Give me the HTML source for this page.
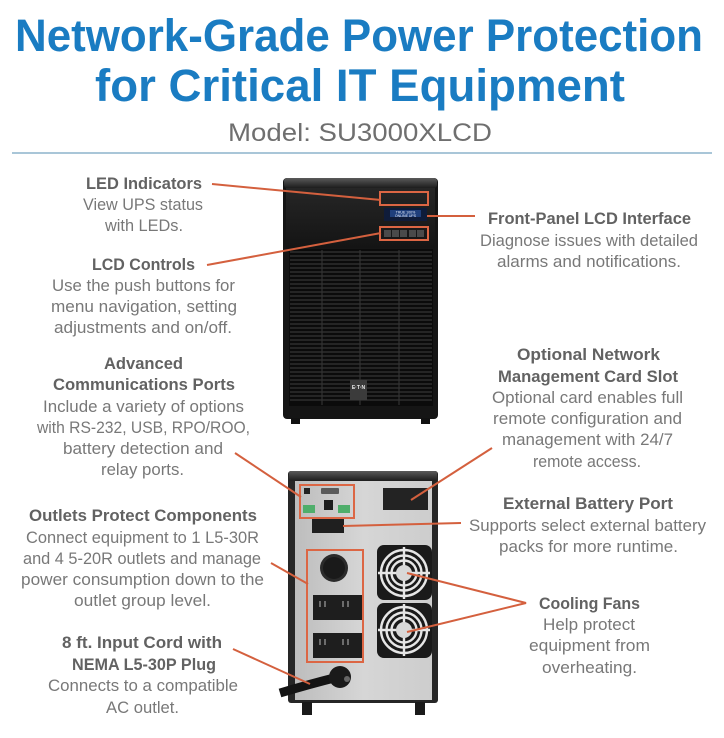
<!DOCTYPE html>
<html><head><meta charset="utf-8"><style>
html,body{margin:0;padding:0;background:#fff;}
svg{display:block;}
.h{font-family:"Liberation Sans",sans-serif;font-weight:bold;font-size:16.5px;fill:#626262;}
.b{font-family:"Liberation Sans",sans-serif;font-size:17px;fill:#787878;}
.c{stroke:#d4603e;stroke-width:2;fill:none;}
.ob{stroke:#dc6644;stroke-width:2;fill:none;}
</style></head><body>
<svg width="724" height="738" viewBox="0 0 724 738" xmlns="http://www.w3.org/2000/svg">
<defs>
<linearGradient id="topg" x1="0" y1="0" x2="0" y2="1"><stop offset="0" stop-color="#5a5a5a"/><stop offset="1" stop-color="#1d1d1d"/></linearGradient>
<linearGradient id="panelg" x1="0" y1="0" x2="0" y2="1"><stop offset="0" stop-color="#262626"/><stop offset="1" stop-color="#141414"/></linearGradient>
<linearGradient id="silver" x1="0" y1="0" x2="1" y2="0"><stop offset="0" stop-color="#bdbdbd"/><stop offset="0.5" stop-color="#d6d6d6"/><stop offset="1" stop-color="#cdcdcd"/></linearGradient>
</defs>

<!-- Title -->
<text x="15" y="51" font-family="Liberation Sans, sans-serif" font-weight="bold" font-size="45" fill="#1a7cc2" textLength="688" lengthAdjust="spacingAndGlyphs">Network-Grade Power Protection</text>
<text x="95" y="101" font-family="Liberation Sans, sans-serif" font-weight="bold" font-size="45" fill="#1a7cc2" textLength="530" lengthAdjust="spacingAndGlyphs">for Critical IT Equipment</text>
<text x="228" y="141" font-family="Liberation Sans, sans-serif" font-size="25" fill="#6f6f6f" textLength="264" lengthAdjust="spacingAndGlyphs">Model: SU3000XLCD</text>
<line x1="12" y1="153" x2="712" y2="153" stroke="#a9c6d8" stroke-width="2"/>

<!-- Front UPS -->
<rect x="283" y="178" width="155" height="241" rx="4" fill="#151515"/>
<rect x="284" y="178" width="153" height="10" rx="3" fill="url(#topg)"/>
<rect x="286" y="188" width="149" height="60" fill="url(#panelg)"/>
<rect x="289" y="249" width="144" height="157" fill="#0b0b0b"/>
<g stroke="#2e2e2e" stroke-width="1.6">
<line x1="290" y1="252" x2="432" y2="252"/>
<line x1="290" y1="256" x2="432" y2="256"/>
<line x1="290" y1="260" x2="432" y2="260"/>
<line x1="290" y1="264" x2="432" y2="264"/>
<line x1="290" y1="268" x2="432" y2="268"/>
<line x1="290" y1="272" x2="432" y2="272"/>
<line x1="290" y1="276" x2="432" y2="276"/>
<line x1="290" y1="280" x2="432" y2="280"/>
<line x1="290" y1="284" x2="432" y2="284"/>
<line x1="290" y1="288" x2="432" y2="288"/>
<line x1="290" y1="292" x2="432" y2="292"/>
<line x1="290" y1="296" x2="432" y2="296"/>
<line x1="290" y1="300" x2="432" y2="300"/>
<line x1="290" y1="304" x2="432" y2="304"/>
<line x1="290" y1="308" x2="432" y2="308"/>
<line x1="290" y1="312" x2="432" y2="312"/>
<line x1="290" y1="316" x2="432" y2="316"/>
<line x1="290" y1="320" x2="432" y2="320"/>
<line x1="290" y1="324" x2="432" y2="324"/>
<line x1="290" y1="328" x2="432" y2="328"/>
<line x1="290" y1="332" x2="432" y2="332"/>
<line x1="290" y1="336" x2="432" y2="336"/>
<line x1="290" y1="340" x2="432" y2="340"/>
<line x1="290" y1="344" x2="432" y2="344"/>
<line x1="290" y1="348" x2="432" y2="348"/>
<line x1="290" y1="352" x2="432" y2="352"/>
<line x1="290" y1="356" x2="432" y2="356"/>
<line x1="290" y1="360" x2="432" y2="360"/>
<line x1="290" y1="364" x2="432" y2="364"/>
<line x1="290" y1="368" x2="432" y2="368"/>
<line x1="290" y1="372" x2="432" y2="372"/>
<line x1="290" y1="376" x2="432" y2="376"/>
<line x1="290" y1="380" x2="432" y2="380"/>
<line x1="290" y1="384" x2="432" y2="384"/>
<line x1="290" y1="388" x2="432" y2="388"/>
<line x1="290" y1="392" x2="432" y2="392"/>
<line x1="290" y1="396" x2="432" y2="396"/>
<line x1="290" y1="400" x2="432" y2="400"/>
</g>
<g stroke="#333" stroke-width="1.2">
<line x1="322" y1="250" x2="322" y2="405"/>
<line x1="360" y1="250" x2="360" y2="405"/>
<line x1="399" y1="250" x2="399" y2="405"/>
</g>
<rect x="350" y="380" width="17" height="20" fill="#3b3b3b"/>
<text x="358.5" y="389" font-family="Liberation Sans, sans-serif" font-weight="bold" font-size="5" fill="#eee" text-anchor="middle">E·T·N</text>
<rect x="291" y="418" width="9" height="6" fill="#111"/>
<rect x="421" y="418" width="9" height="6" fill="#111"/>
<!-- LED box -->
<rect x="380" y="192" width="48" height="13" fill="#0e0e0e" class="ob"/>
<!-- LCD -->
<rect x="384" y="208" width="43" height="13" fill="#0f1c3a"/>
<rect x="390" y="210" width="31" height="7" fill="#1f3f7c"/>
<text x="405.5" y="213.5" font-family="Liberation Sans, sans-serif" font-size="3.5" fill="#e8eefc" text-anchor="middle">TRUE 100%</text>
<text x="405.5" y="217" font-family="Liberation Sans, sans-serif" font-size="3.5" fill="#e8eefc" text-anchor="middle">ONLINE UPS</text>
<!-- buttons -->
<rect x="380" y="227" width="48" height="13" fill="#1a1a1a" class="ob"/>
<rect x="384" y="230" width="7" height="7" fill="#4a4a4a"/>
<rect x="392" y="230" width="7" height="7" fill="#4a4a4a"/>
<rect x="400" y="230" width="7" height="7" fill="#4a4a4a"/>
<rect x="409" y="230" width="7" height="7" fill="#4a4a4a"/>
<rect x="417" y="230" width="7" height="7" fill="#4a4a4a"/>

<!-- Back UPS -->
<rect x="288" y="471" width="150" height="232" rx="3" fill="#262626"/>
<rect x="289" y="471" width="148" height="10" rx="2" fill="url(#topg)"/>
<rect x="295" y="481" width="137" height="219" fill="url(#silver)"/>
<!-- comm box -->
<rect x="300" y="485" width="54" height="33" class="ob"/>
<rect x="304" y="488" width="6" height="6" fill="#222"/>
<rect x="321" y="488" width="18" height="6" rx="1" fill="#5a5a5a"/>
<rect x="303" y="505" width="12" height="8" fill="#4fae6b"/>
<rect x="338" y="505" width="12" height="8" fill="#4fae6b"/>
<rect x="324" y="500" width="9" height="10" fill="#1d1d1d"/>
<!-- NMC -->
<rect x="383" y="488" width="45" height="22" fill="#232323"/>
<!-- ext battery -->
<rect x="312" y="519" width="32" height="14" fill="#1f1f1f"/>
<!-- outlets -->
<rect x="307" y="550" width="56" height="112" class="ob"/>
<circle cx="334" cy="568" r="14" fill="#2b2b2b"/>
<circle cx="334" cy="568" r="11" fill="#1a1a1a"/>
<rect x="313" y="595" width="49" height="25" fill="#1e1e1e"/>
<rect x="313" y="633" width="49" height="25" fill="#1e1e1e"/>
<g stroke="#bbb" stroke-width="1">
<line x1="320" y1="601" x2="320" y2="607"/><line x1="325" y1="601" x2="325" y2="607"/>
<line x1="343" y1="601" x2="343" y2="607"/><line x1="348" y1="601" x2="348" y2="607"/>
<line x1="320" y1="639" x2="320" y2="645"/><line x1="325" y1="639" x2="325" y2="645"/>
<line x1="343" y1="639" x2="343" y2="645"/><line x1="348" y1="639" x2="348" y2="645"/>
</g>
<!-- fans -->
<rect x="377" y="545" width="55" height="55" rx="7" fill="#1a1a1a"/>
<rect x="377" y="603" width="55" height="55" rx="7" fill="#1a1a1a"/>
<g fill="none" stroke="#e6e6e6" stroke-width="2.4">
<circle cx="404" cy="573" r="23"/><circle cx="404" cy="573" r="17.5"/><circle cx="404" cy="573" r="12.5"/>
<circle cx="404" cy="630" r="23"/><circle cx="404" cy="630" r="17.5"/><circle cx="404" cy="630" r="12.5"/>
<line x1="404" y1="547" x2="404" y2="599"/><line x1="378" y1="573" x2="430" y2="573"/>
<line x1="404" y1="604" x2="404" y2="656"/><line x1="378" y1="630" x2="430" y2="630"/>
</g>
<circle cx="404" cy="573" r="8" fill="#d8d8d8"/>
<circle cx="404" cy="630" r="8" fill="#d8d8d8"/>
<!-- cord -->
<path d="M280 693 Q310 684 338 677" stroke="#141414" stroke-width="9" fill="none"/>
<circle cx="340" cy="677" r="11" fill="#1a1a1a"/>
<circle cx="347" cy="679" r="3" fill="#666"/>
<!-- feet -->
<rect x="302" y="702" width="10" height="13" fill="#1a1a1a"/>
<rect x="415" y="702" width="10" height="13" fill="#1a1a1a"/>

<!-- Connectors -->
<line class="c" x1="212" y1="184" x2="381" y2="200"/>
<line class="c" x1="207" y1="265" x2="381" y2="233"/>
<line class="c" x1="427" y1="216" x2="475" y2="216"/>
<line class="c" x1="235" y1="453" x2="301" y2="497"/>
<line class="c" x1="492" y1="448" x2="411" y2="500"/>
<line class="c" x1="343" y1="526" x2="461" y2="523"/>
<line class="c" x1="271" y1="563" x2="308" y2="584"/>
<line class="c" x1="233" y1="649" x2="310" y2="684"/>
<polyline class="c" points="407,573 526,603 407,632"/>

<!-- Left labels -->
<text class="h" x="86" y="189" textLength="116" lengthAdjust="spacingAndGlyphs">LED Indicators</text>
<text class="b" x="83" y="210" textLength="120" lengthAdjust="spacingAndGlyphs">View UPS status</text>
<text class="b" x="105" y="231" textLength="78" lengthAdjust="spacingAndGlyphs">with LEDs.</text>
<text class="h" x="92" y="270" textLength="103" lengthAdjust="spacingAndGlyphs">LCD Controls</text>
<text class="b" x="52" y="291" textLength="183" lengthAdjust="spacingAndGlyphs">Use the push buttons for</text>
<text class="b" x="51" y="312" textLength="186" lengthAdjust="spacingAndGlyphs">menu navigation, setting</text>
<text class="b" x="54" y="333" textLength="178" lengthAdjust="spacingAndGlyphs">adjustments and on/off.</text>
<text class="h" x="104" y="369" textLength="79" lengthAdjust="spacingAndGlyphs">Advanced</text>
<text class="h" x="53" y="390" textLength="182" lengthAdjust="spacingAndGlyphs">Communications Ports</text>
<text class="b" x="43" y="412" textLength="201" lengthAdjust="spacingAndGlyphs">Include a variety of options</text>
<text class="b" x="37" y="433" textLength="213" lengthAdjust="spacingAndGlyphs">with RS-232, USB, RPO/ROO,</text>
<text class="b" x="63" y="454" textLength="160" lengthAdjust="spacingAndGlyphs">battery detection and</text>
<text class="b" x="101" y="475" textLength="83" lengthAdjust="spacingAndGlyphs">relay ports.</text>
<text class="h" x="29" y="521" textLength="228" lengthAdjust="spacingAndGlyphs">Outlets Protect Components</text>
<text class="b" x="26" y="543" textLength="233" lengthAdjust="spacingAndGlyphs">Connect equipment to 1 L5-30R</text>
<text class="b" x="23" y="564" textLength="238" lengthAdjust="spacingAndGlyphs">and 4 5-20R outlets and manage</text>
<text class="b" x="21" y="585" textLength="243" lengthAdjust="spacingAndGlyphs">power consumption down to the</text>
<text class="b" x="74" y="606" textLength="137" lengthAdjust="spacingAndGlyphs">outlet group level.</text>
<text class="h" x="62" y="648" textLength="160" lengthAdjust="spacingAndGlyphs">8 ft. Input Cord with</text>
<text class="h" x="72" y="670" textLength="144" lengthAdjust="spacingAndGlyphs">NEMA L5-30P Plug</text>
<text class="b" x="48" y="691" textLength="190" lengthAdjust="spacingAndGlyphs">Connects to a compatible</text>
<text class="b" x="106" y="713" textLength="73" lengthAdjust="spacingAndGlyphs">AC outlet.</text>

<!-- Right labels -->
<text class="h" x="488" y="224" textLength="203" lengthAdjust="spacingAndGlyphs">Front-Panel LCD Interface</text>
<text class="b" x="480" y="246" textLength="218" lengthAdjust="spacingAndGlyphs">Diagnose issues with detailed</text>
<text class="b" x="497" y="267" textLength="184" lengthAdjust="spacingAndGlyphs">alarms and notifications.</text>
<text class="h" x="517" y="360" textLength="143" lengthAdjust="spacingAndGlyphs">Optional Network</text>
<text class="h" x="498" y="382" textLength="180" lengthAdjust="spacingAndGlyphs">Management Card Slot</text>
<text class="b" x="492" y="403" textLength="191" lengthAdjust="spacingAndGlyphs">Optional card enables full</text>
<text class="b" x="493" y="424" textLength="189" lengthAdjust="spacingAndGlyphs">remote configuration and</text>
<text class="b" x="502" y="445" textLength="171" lengthAdjust="spacingAndGlyphs">management with 24/7</text>
<text class="b" x="533" y="467" textLength="108" lengthAdjust="spacingAndGlyphs">remote access.</text>
<text class="h" x="503" y="509" textLength="170" lengthAdjust="spacingAndGlyphs">External Battery Port</text>
<text class="b" x="469" y="531" textLength="237" lengthAdjust="spacingAndGlyphs">Supports select external battery</text>
<text class="b" x="499" y="552" textLength="179" lengthAdjust="spacingAndGlyphs">packs for more runtime.</text>
<text class="h" x="539" y="609" textLength="101" lengthAdjust="spacingAndGlyphs">Cooling Fans</text>
<text class="b" x="543" y="630" textLength="92" lengthAdjust="spacingAndGlyphs">Help protect</text>
<text class="b" x="529" y="651" textLength="121" lengthAdjust="spacingAndGlyphs">equipment from</text>
<text class="b" x="542" y="673" textLength="95" lengthAdjust="spacingAndGlyphs">overheating.</text>
</svg>
</body></html>
